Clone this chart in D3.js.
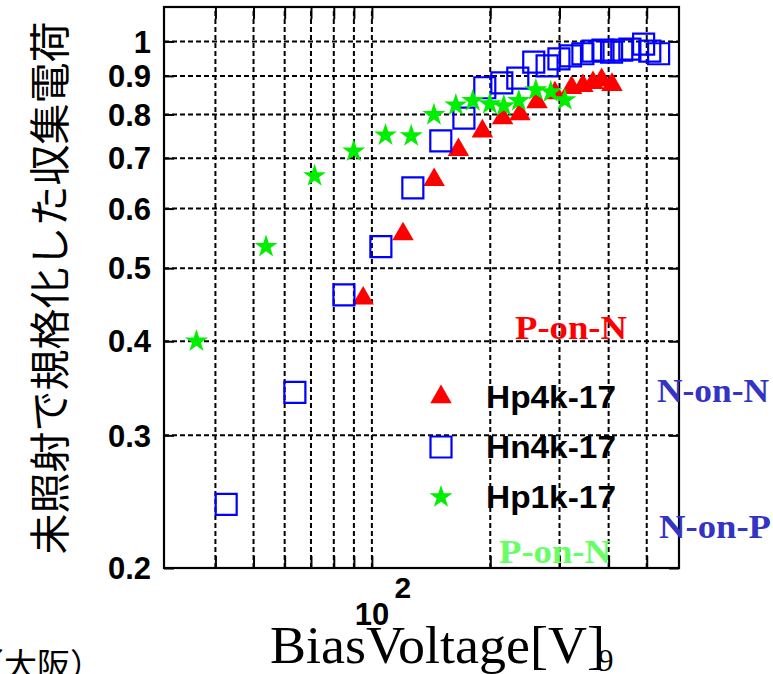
<!DOCTYPE html>
<html><head><meta charset="utf-8">
<script src="https://cdn.jsdelivr.net/npm/d3@7"></script>
<style>html,body{margin:0;padding:0;background:#fff;}svg{display:block;}</style>
</head><body>
<svg id="chart" width="773" height="674"></svg>
<script>
// ---- data ----
const hp4kV = [95, 120, 144, 166, 191, 215, 238, 263, 292, 322, 344, 365, 384, 408];
const hp4kQ = [0.456, 0.555, 0.655, 0.718, 0.760, 0.791, 0.801, 0.831, 0.854, 0.868, 0.873, 0.881, 0.889, 0.876];
const hn4kV = [42.6, 63.7, 84.9, 105.4, 127.1, 149.7, 171.4, 193.7, 214, 235, 258, 279, 299, 320, 344, 365, 387, 407, 432, 453, 491, 509, 536];
const hn4kQ = [0.243, 0.342, 0.461, 0.534, 0.639, 0.738, 0.791, 0.868, 0.881, 0.894, 0.939, 0.928, 0.948, 0.957, 0.963, 0.971, 0.974, 0.968, 0.974, 0.977, 0.992, 0.971, 0.963];
const hp1kV = [35.8, 53.8, 71.5, 89.9, 108.3, 125.9, 143.8, 163.5, 180.6, 199.5, 216.5, 236.4, 261.2, 285.1, 309.5];
const hp1kQ = [0.40, 0.534, 0.663, 0.715, 0.751, 0.749, 0.799, 0.823, 0.834, 0.826, 0.821, 0.834, 0.862, 0.857, 0.836];
const seriesNames = ["Hp4k-17", "Hn4k-17", "Hp1k-17"];
const yTicks = [0.2, 0.3, 0.4, 0.5, 0.6, 0.7, 0.8, 0.9, 1];
const yTickLabels = ["0.2", "0.3", "0.4", "0.5", "0.6", "0.7", "0.8", "0.9", "1"];
const xTicks = [40, 50, 60, 70, 80, 90, 100, 200, 300, 400, 500];
const yTitle = "未照射で規格化した収集電荷";
const xTitle = "BiasVoltage[V]";

// ---- layout ----
const L = 164, R = 679, T = 7, B = 568;
const svg = d3.select("#chart");
const x = d3.scaleLog().domain([29.6, 604]).range([L, R]);
const y = d3.scaleLog().domain([0.2, 1.111]).range([B, T]);

// grid
const grid = svg.append("g").attr("stroke", "#000").attr("stroke-width", 2).attr("stroke-dasharray", "5,3");
grid.selectAll("line.v").data(xTicks).join("line")
  .attr("x1", d => x(d)).attr("x2", d => x(d)).attr("y1", B).attr("y2", T);
grid.selectAll("line.h").data(yTicks.filter(d => d > 0.2)).join("line")
  .attr("x1", L).attr("x2", R).attr("y1", d => y(d)).attr("y2", d => y(d));

// axes (ticks drawn inward via d3 axes)
const yAxis = d3.axisLeft(y).tickValues(yTicks).tickSize(-10).tickFormat("");
const gy = svg.append("g").attr("transform", `translate(${L},0)`).call(yAxis);
const yAxisR = d3.axisRight(y).tickValues(yTicks).tickSize(-10).tickFormat("");
const gyr = svg.append("g").attr("transform", `translate(${R},0)`).call(yAxisR);
const xAxis = d3.axisBottom(x).tickValues(xTicks).tickSize(-12).tickFormat("");
const gx = svg.append("g").attr("transform", `translate(0,${B})`).call(xAxis);
const xAxisT = d3.axisTop(x).tickValues(xTicks).tickSize(-12).tickFormat("");
const gxt = svg.append("g").attr("transform", `translate(0,${T})`).call(xAxisT);
[gy, gyr, gx, gxt].forEach(g => {
  g.selectAll(".domain").remove();
  g.selectAll(".tick line").attr("stroke", "#000").attr("stroke-width", 2);
});
svg.append("rect").attr("x", L).attr("y", T).attr("width", R - L).attr("height", B - T)
  .attr("fill", "none").attr("stroke", "#000").attr("stroke-width", 2.2);

// y tick labels
svg.append("g").selectAll("text").data(yTicks).join("text")
  .attr("x", 151).attr("y", d => y(d)).attr("dy", "0.36em")
  .attr("text-anchor", "end")
  .attr("font-family", "Liberation Sans, Arial, sans-serif").attr("font-weight", "bold")
  .attr("font-size", 31).attr("fill", "#000")
  .text((d, i) => yTickLabels[i]);

// x tick label 10^2
svg.append("text").attr("x", x(100)).attr("y", 625).attr("text-anchor", "middle")
  .attr("font-family", "Liberation Sans, Arial, sans-serif").attr("font-weight", "bold")
  .attr("font-size", 31).text("10");
svg.append("text").attr("x", x(100) + 31).attr("y", 598).attr("text-anchor", "middle")
  .attr("font-family", "Liberation Sans, Arial, sans-serif").attr("font-weight", "bold")
  .attr("font-size", 30).text("2");

// axis titles
svg.append("text").attr("transform", "translate(47,288) rotate(-90)")
  .attr("text-anchor", "middle").attr("dominant-baseline", "central")
  .attr("font-family", "Noto Sans CJK JP, sans-serif").attr("font-size", 41)
  .attr("fill", "#000").text(yTitle);
svg.append("text").attr("x", 270).attr("y", 663)
  .attr("font-family", "Liberation Serif, Times New Roman, serif").attr("font-size", 53)
  .attr("textLength", 335).attr("lengthAdjust", "spacingAndGlyphs")
  .attr("fill", "#000").text(xTitle);

// markers
const triPath = d3.symbol().type(d3.symbolTriangle).size(200)();
const sqPath = d3.symbol().type(d3.symbolSquare).size(441)();
const starPath = d3.symbol().type(d3.symbolStar).size(165)();

const redData = hp4kV.map((v, i) => [v, hp4kQ[i]]);
const blueData = hn4kV.map((v, i) => [v, hn4kQ[i]]);
const greenData = hp1kV.map((v, i) => [v, hp1kQ[i]]);

svg.append("g").selectAll("path").data(redData).join("path")
  .attr("d", triPath).attr("transform", d => `translate(${x(d[0])},${y(d[1])})`)
  .attr("fill", "#ff0000");
svg.append("g").selectAll("path").data(blueData).join("path")
  .attr("d", sqPath).attr("transform", d => `translate(${x(d[0])},${y(d[1])})`)
  .attr("fill", "none").attr("stroke", "#0000ff").attr("stroke-width", 2.2);
svg.append("g").selectAll("path").data(greenData).join("path")
  .attr("d", starPath).attr("transform", d => `translate(${x(d[0])},${y(d[1])})`)
  .attr("fill", "#00ee00");

// legend
const legY = [397, 447, 497];
const legPaths = [triPath, sqPath, starPath];
const leg = svg.append("g");
seriesNames.forEach((name, i) => {
  const m = leg.append("path").attr("d", legPaths[i]).attr("transform", `translate(441,${legY[i]})`);
  if (i === 1) m.attr("fill", "none").attr("stroke", "#0000ff").attr("stroke-width", 2.2);
  else m.attr("fill", i === 0 ? "#ff0000" : "#00ee00");
  leg.append("text").attr("x", 486).attr("y", legY[i] + 11)
    .attr("font-family", "Liberation Sans, Arial, sans-serif").attr("font-weight", "bold")
    .attr("font-size", 31).attr("textLength", 130).attr("lengthAdjust", "spacingAndGlyphs")
    .attr("fill", "#000").text(name);
});

// annotations
const ann = [
  {t: "P-on-N", x: 515, y: 339, c: "#ff0000"},
  {t: "N-on-N", x: 657, y: 402, c: "#3333c4"},
  {t: "N-on-P", x: 659, y: 538, c: "#3333c4"},
  {t: "P-on-N", x: 499, y: 563, c: "#66ff66"}
];
svg.append("g").selectAll("text").data(ann).join("text")
  .attr("x", d => d.x).attr("y", d => d.y).attr("fill", d => d.c)
  .attr("font-family", "Liberation Serif, Times New Roman, serif").attr("font-weight", "bold")
  .attr("font-size", 34).attr("textLength", 112).attr("lengthAdjust", "spacingAndGlyphs")
  .text(d => d.t);

// page fragments
svg.append("text").attr("x", -29).attr("y", 677)
  .attr("font-family", "Noto Sans CJK JP, sans-serif").attr("font-size", 33)
  .attr("fill", "#000").text("（大阪）");
svg.append("text").attr("x", 598).attr("y", 671)
  .attr("font-family", "Liberation Serif, Times New Roman, serif").attr("font-size", 31)
  .attr("fill", "#000").text("9");
</script>
</body></html>
